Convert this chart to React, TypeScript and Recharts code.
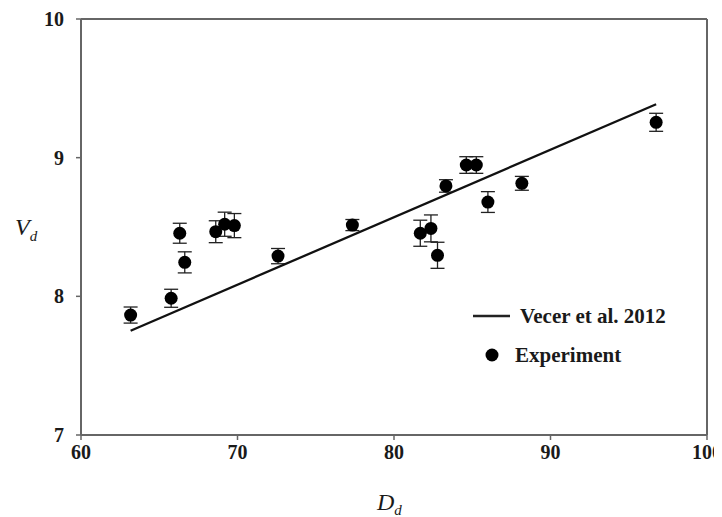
import React from "react";
import {
  ScatterChart,
  Scatter,
  XAxis,
  YAxis,
  ErrorBar,
  ReferenceLine,
} from "recharts";

// Experiment data
const expD = [63.17, 65.76, 66.31, 66.63, 68.61, 69.18, 69.8, 72.59, 77.34, 81.68, 82.36, 82.78, 83.32, 84.62, 85.26, 86.0, 88.17, 96.75];
const expV = [7.865, 7.986, 8.455, 8.245, 8.466, 8.52, 8.51, 8.29, 8.514, 8.455, 8.49, 8.296, 8.796, 8.947, 8.947, 8.68, 8.815, 9.255];
const expErr = [0.058, 0.065, 0.072, 0.076, 0.079, 0.087, 0.087, 0.055, 0.04, 0.094, 0.097, 0.094, 0.045, 0.06, 0.06, 0.075, 0.05, 0.065];

// Vecer et al. 2012 correlation line endpoints
const modelD = [63.17, 96.75];
const modelV = [7.752, 9.385];

const xTicks = [60, 70, 80, 90, 100];
const yTicks = [7, 8, 9, 10];

const seriesNames = ["Vecer et al. 2012", "Experiment"];

const expData = expD.map((d, i) => ({ x: d, y: expV[i], err: expErr[i] }));
const modelData = modelD.map((d, i) => ({ x: d, y: modelV[i] }));

const AXIS = "#666";
const TEXT = "#1a1a1a";
const FONT = "'Liberation Serif'";

const Dot = (props: any) => {
  const { cx, cy } = props;
  if (cx == null || cy == null) return <g />;
  return <circle cx={cx} cy={cy} r={6.5} fill="#000" />;
};

const XTick = (props: any) => {
  const { x, y, payload } = props;
  return (
    <text x={x} y={y} dy={14} textAnchor="middle" fill={TEXT} fontFamily={FONT} fontWeight="bold" fontSize={20}>
      {payload.value}
    </text>
  );
};

const YTick = (props: any) => {
  const { x, y, payload } = props;
  return (
    <text x={x} y={y} dy={7} textAnchor="end" fill={TEXT} fontFamily={FONT} fontWeight="bold" fontSize={20}>
      {payload.value}
    </text>
  );
};

const XLabel = () => (
  <text x={369} y={502} fill={TEXT} fontFamily={FONT} fontStyle="italic" fontSize={24}>
    D
    <tspan dy={5} fontSize={15}>d</tspan>
  </text>
);

const YLabel = () => (
  <text x={7} y={227} fill={TEXT} fontFamily={FONT} fontStyle="italic" fontSize={24}>
    V
    <tspan dy={6} fontSize={15}>d</tspan>
  </text>
);

export default function App() {
  return (
    <div style={{ position: "relative", width: 714, height: 509, fontFamily: "Liberation Serif" }}>
      <ScatterChart
        width={714}
        height={509}
        margin={{ top: 11, right: 15, left: 0, bottom: 0 }}
      >
        <XAxis
          type="number"
          dataKey="x"
          domain={[60, 100]}
          ticks={xTicks}
          height={82}
          axisLine={{ stroke: AXIS, strokeWidth: 2 }}
          tickLine={{ stroke: AXIS, strokeWidth: 1.5 }}
          tickSize={5}
          tickMargin={5}
          tick={<XTick />}
          label={{ content: <XLabel /> }}
          allowDataOverflow
        />
        <YAxis
          type="number"
          dataKey="y"
          domain={[7, 10]}
          ticks={yTicks}
          width={73}
          axisLine={{ stroke: AXIS, strokeWidth: 2 }}
          tickLine={{ stroke: AXIS, strokeWidth: 1.5 }}
          tickSize={5}
          tickMargin={12}
          tick={<YTick />}
          label={{ content: <YLabel /> }}
          allowDataOverflow
        />
        <ReferenceLine y={10} stroke={AXIS} strokeWidth={2} />
        <ReferenceLine x={100} stroke={AXIS} strokeWidth={2} />
        <Scatter
          name={seriesNames[0]}
          data={modelData}
          line={{ stroke: "#111", strokeWidth: 2.3 }}
          lineType="joint"
          shape={() => <g />}
          isAnimationActive={false}
        />
        <Scatter
          name={seriesNames[1]}
          data={expData}
          shape={<Dot />}
          isAnimationActive={false}
        >
          <ErrorBar dataKey="err" direction="y" width={7} stroke="#222" strokeWidth={1.3} />
        </Scatter>
      </ScatterChart>
      <svg
        width={230}
        height={80}
        style={{ position: "absolute", left: 465, top: 296, overflow: "visible" }}
      >
        <line x1={0} y1={12} x2={37} y2={12} stroke="#222" strokeWidth={2.5} />
        <text x={47} y={19} fontFamily={FONT} fontWeight="bold" fontSize={21} fill={TEXT}>
          {seriesNames[0]}
        </text>
        <circle cx={19} cy={51} r={6.5} fill="#000" />
        <text x={42} y={58} fontFamily={FONT} fontWeight="bold" fontSize={21} fill={TEXT}>
          {seriesNames[1]}
        </text>
      </svg>
    </div>
  );
}
